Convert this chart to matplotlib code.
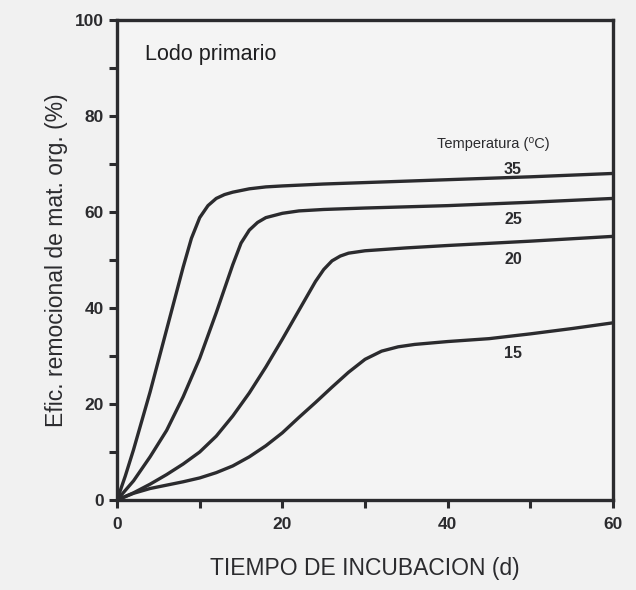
"""Organic matter removal efficiency vs. incubation time for primary sludge."""

import matplotlib
matplotlib.use('Agg')
import matplotlib.pyplot as plt
from matplotlib.ticker import MultipleLocator

plt.rcParams['font.family'] = ['Liberation Sans', 'DejaVu Sans']

INK = '#2b2b2e'

# incubation time (d) and removal efficiency (%) per temperature
t35 = [0, 1, 2, 3, 4, 5, 6, 7, 8, 9, 10, 11, 12, 13, 14, 16, 18, 20, 25, 30, 40, 50, 60]
e35 = [0, 5, 10.5, 16.5, 22.5, 29, 35.5, 42, 48.5, 54.5, 58.8, 61.3, 62.8, 63.6,
       64.1, 64.8, 65.2, 65.4, 65.8, 66.1, 66.7, 67.3, 68.0]

t25 = [0, 2, 4, 6, 8, 10, 12, 14, 15, 16, 17, 18, 20, 22, 25, 30, 40, 50, 60]
e25 = [0, 4, 9, 14.5, 21.5, 29.5, 39, 49, 53.5, 56.2, 57.8, 58.8, 59.7, 60.2,
       60.5, 60.8, 61.3, 62.0, 62.8]

t20 = [0, 2, 4, 6, 8, 10, 12, 14, 16, 18, 20, 22, 24, 25, 26, 27, 28, 30, 35,
       40, 50, 60]
e20 = [0, 1.5, 3.3, 5.3, 7.5, 10, 13.3, 17.5, 22.3, 27.7, 33.5, 39.5, 45.5, 48,
       49.8, 50.8, 51.4, 51.9, 52.5, 53.0, 53.9, 54.9]

t15 = [0, 2, 4, 6, 8, 10, 12, 14, 16, 18, 20, 22, 24, 26, 28, 30, 32, 34, 36,
       40, 45, 50, 55, 60]
e15 = [0, 1.4, 2.4, 3.1, 3.8, 4.6, 5.7, 7.1, 9.0, 11.3, 14.0, 17.2, 20.3, 23.5,
       26.6, 29.3, 31.0, 31.9, 32.4, 33.0, 33.6, 34.6, 35.7, 36.9]

temps = ['35', '25', '20', '15']
label_pos = {'35': 68.9, '25': 58.4, '20': 50.1, '15': 30.6}

fig = plt.figure(figsize=(6.36, 5.9), dpi=100, facecolor='#f1f1f1')
ax = fig.add_axes([0.184, 0.1525, 0.78, 0.814])
ax.set_facecolor('#f4f4f4')

for t, e in [(t35, e35), (t25, e25), (t20, e20), (t15, e15)]:
    ax.plot(t, e, '-', color=INK, linewidth=2.4, solid_capstyle='round',
            solid_joinstyle='round')

for name in temps:
    ax.text(47.9, label_pos[name], name, ha='center', va='center',
            fontsize=11.5, fontweight='bold', color=INK)
ax.text(45.5, 74.1, 'Temperatura (\u2070C)', ha='center', va='center',
        fontsize=10.5, color=INK)
ax.text(3.4, 92.8, 'Lodo primario', ha='left', va='center',
        fontsize=15.5, color='#1e1e20')

ax.set_xlim(0, 60)
ax.set_ylim(0, 100)
ax.xaxis.set_major_locator(MultipleLocator(20))
ax.xaxis.set_minor_locator(MultipleLocator(10))
ax.yaxis.set_major_locator(MultipleLocator(20))
ax.yaxis.set_minor_locator(MultipleLocator(10))
ax.tick_params(which='both', direction='out', color=INK, width=2.2,
               labelsize=12.5, labelcolor=INK, length=6)
ax.tick_params(axis='x', which='both', pad=6)
for lab in ax.get_xticklabels() + ax.get_yticklabels():
    lab.set_fontweight('bold')
for side in ax.spines.values():
    side.set_linewidth(2.4)
    side.set_color(INK)

ax.set_xlabel('TIEMPO DE INCUBACION (d)', fontsize=16.5, color=INK, labelpad=18)
ax.set_ylabel('Efic. remocional de mat. org. (%)', fontsize=16.5, color=INK,
              labelpad=5)

fig.savefig('out.png', dpi=100, facecolor=fig.get_facecolor())
